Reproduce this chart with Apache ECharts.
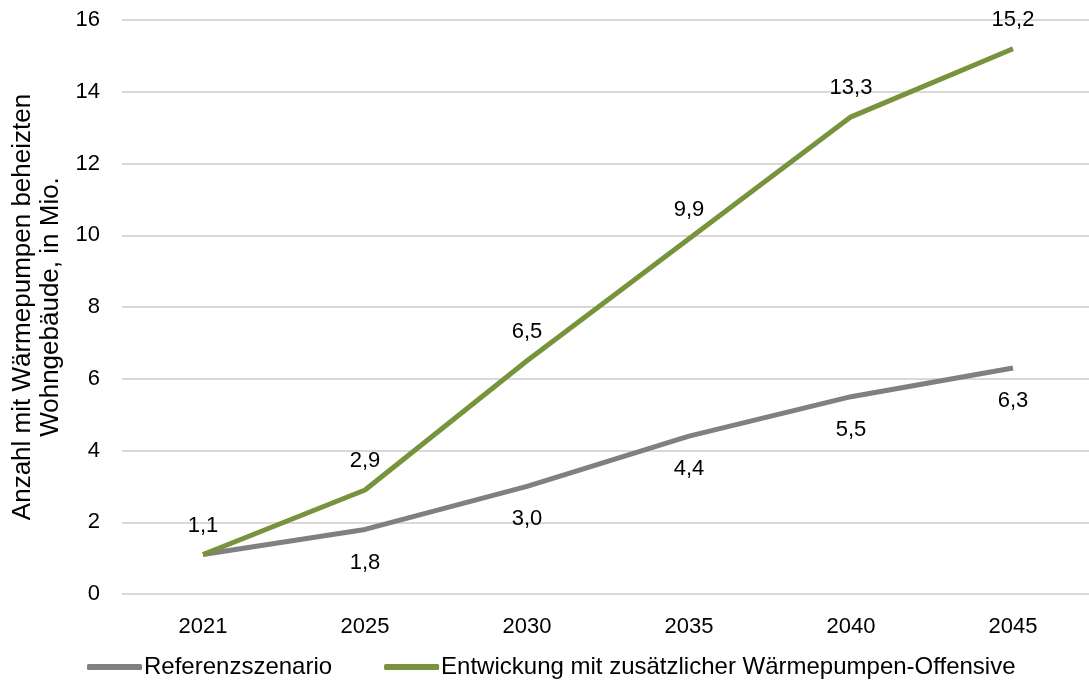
<!DOCTYPE html>
<html>
<head>
<meta charset="utf-8">
<script src="https://cdn.jsdelivr.net/npm/echarts@6/dist/echarts.min.js"></script>
<style>
  html, body { margin: 0; padding: 0; background: #fff; }
  #chart { width: 1089px; height: 688px; }
</style>
</head>
<body>
<div id="chart"></div>
<script>
// Jahre (x-Achse)
const years = ['2021', '2025', '2030', '2035', '2040', '2045'];
// Referenzszenario, Mio. Wohngebäude
const referenz = [1.1, 1.8, 3.0, 4.4, 5.5, 6.3];
// Entwicklung mit Wärmepumpen-Offensive
const offensive = [1.1, 2.9, 6.5, 9.9, 13.3, 15.2];

const fontFam = '"Liberation Sans", Arial, sans-serif';
const fmt = p => p.value.toFixed(1).replace('.', ',');

// erster Wert ist bei beiden gleich -> nur ein Label (oben) anzeigen
const referenzData = referenz.map((v, i) => i === 0 ? { value: v, label: { show: false } } : v);

const chart = echarts.init(document.getElementById('chart'));
chart.setOption({
  animation: false,
  textStyle: { fontFamily: fontFam, color: '#000' },
  grid: { left: 122, right: -5, top: 20, bottom: 94, outerBoundsMode: 'none' },
  legend: {
    bottom: 4,
    left: 82,
    itemWidth: 55,
    itemHeight: 6,
    itemGap: 52,
    icon: 'roundRect',
    textStyle: { fontSize: 24, color: '#000', fontFamily: fontFam, padding: [0, 0, 0, -3] },
    data: ['Referenzszenario', 'Entwickung mit zusätzlicher Wärmepumpen-Offensive']
  },
  xAxis: {
    type: 'category',
    data: years,
    boundaryGap: true,
    axisLine: { show: false },
    axisTick: { show: false },
    axisLabel: { fontSize: 22, color: '#000', margin: 22, fontFamily: fontFam }
  },
  yAxis: {
    type: 'value',
    min: 0,
    max: 16,
    interval: 2,
    name: 'Anzahl mit Wärmepumpen beheizten\nWohngebäude, in Mio.',
    nameLocation: 'middle',
    nameGap: 57,
    nameTextStyle: { fontSize: 26, color: '#000', lineHeight: 28, fontFamily: fontFam },
    axisLine: { show: false },
    axisTick: { show: false },
    axisLabel: { fontSize: 22, color: '#000', margin: 22, fontFamily: fontFam },
    splitLine: { lineStyle: { color: '#d9d9d9', width: 2 } }
  },
  series: [
    {
      name: 'Referenzszenario',
      type: 'line',
      data: referenzData,
      color: '#808080',
      showSymbol: true,
      symbol: 'circle',
      symbolSize: 0.1,
      lineStyle: { width: 5, color: '#808080' },
      label: {
        show: true,
        position: 'bottom',
        distance: 22,
        fontSize: 22,
        color: '#000',
        fontFamily: fontFam,
        formatter: fmt
      },
      z: 2
    },
    {
      name: 'Entwickung mit zusätzlicher Wärmepumpen-Offensive',
      type: 'line',
      data: offensive,
      color: '#77933c',
      showSymbol: true,
      symbol: 'circle',
      symbolSize: 0.1,
      lineStyle: { width: 5, color: '#77933c' },
      label: {
        show: true,
        position: 'top',
        distance: 18,
        fontSize: 22,
        color: '#000',
        fontFamily: fontFam,
        formatter: fmt
      },
      z: 3
    }
  ]
});
</script>
</body>
</html>
